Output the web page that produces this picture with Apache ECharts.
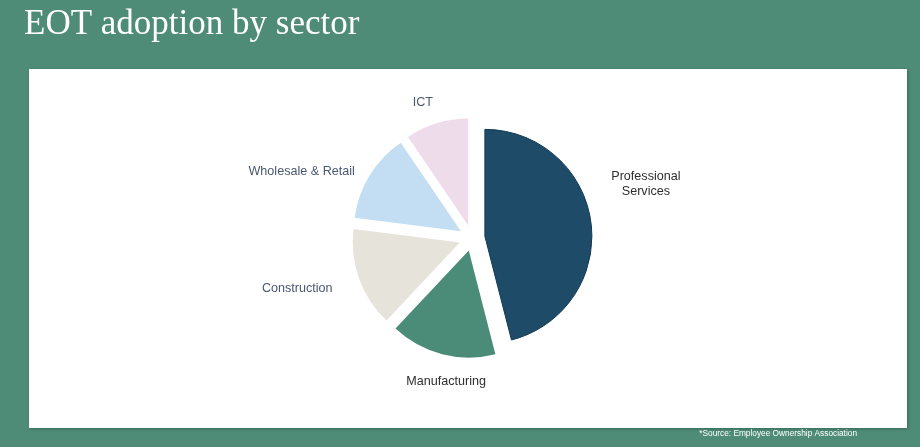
<!DOCTYPE html>
<html>
<head>
<meta charset="utf-8">
<script src="https://cdn.jsdelivr.net/npm/echarts@6/dist/echarts.min.js"></script>
<style>
html,body{margin:0;padding:0;background:#4E8C78;}
#chart{width:920px;height:447px;}
</style>
</head>
<body>
<div id="chart"></div>
<script>
const categories = ['Professional\nServices', 'Manufacturing', 'Construction', 'Wholesale & Retail', 'ICT'];
const values = [46, 16, 15, 13.5, 9.5];
const sliceColors = ['#1D4B68', '#4A8C78', '#E6E3DA', '#C3DDF2', '#EFDCEA'];
const labelColors = ['#2F2F2F', '#2F2F2F', '#4A5870', '#4A5870', '#4A5870'];
// small nudges of label text away from the library's default outside position
const labelNudges = [[30, -36], [14, 8], [-38, 3], [-46, 7], [-3, -2]];

const chart = echarts.init(document.getElementById('chart'), null, {renderer: 'canvas'});
const option = {
  animation: false,
  backgroundColor: '#4E8C78',
  title: {
    text: 'EOT adoption by sector',
    left: 19, top: 2,
    textStyle: {fontFamily: 'Liberation Serif', fontWeight: 'normal', fontSize: 35, color: '#FFFFFF'}
  },
  graphic: [
    {type: 'rect', shape: {x: 29, y: 69, width: 878, height: 359}, style: {fill: '#FFFFFF', shadowBlur: 3, shadowColor: 'rgba(0,0,0,0.25)', shadowOffsetX: 1, shadowOffsetY: 1}, z: -10},
    {type: 'text', right: 63, top: 430, style: {text: '*Source: Employee Ownership Association', fill: '#FFFFFF', font: '8.3px "Liberation Sans"'}}
  ],
  series: [{
    type: 'pie',
    center: [472, 238],
    radius: 107,
    startAngle: 90,
    clockwise: true,
    selectedMode: 'multiple',
    selectedOffset: 13,
    emphasis: {disabled: true},
    label: {show: true, position: 'outside', fontFamily: 'Liberation Sans', fontSize: 12.6, lineHeight: 15},
    labelLine: {show: false, length: 20, length2: 0},
    labelLayout: function (p) {
      const n = labelNudges[p.dataIndex];
      return {align: 'center', dx: n[0], dy: n[1]};
    },
    data: categories.map((c, i) => ({
      name: c, value: values[i], selected: true,
      itemStyle: {color: sliceColors[i], borderColor: i === 0 ? '#123A55' : sliceColors[i], borderWidth: i === 0 ? 1 : 0},
      label: {color: labelColors[i]}
    }))
  }]
};
chart.setOption(option);
</script>
</body>
</html>
